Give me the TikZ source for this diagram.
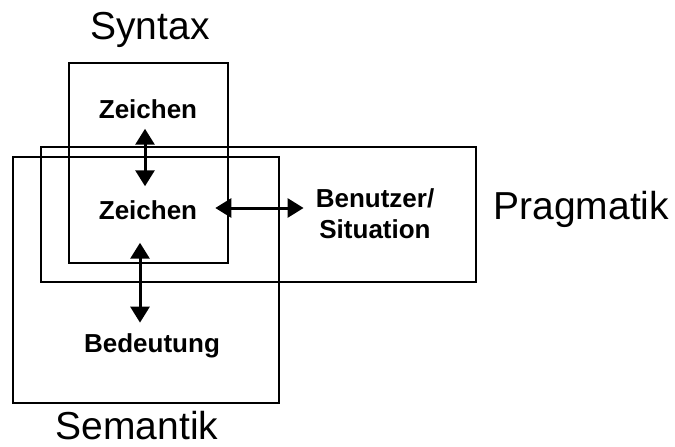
\documentclass[tikz,border=0pt]{standalone}
\usepackage{fontspec}
\setsansfont{Liberation Sans}
\usetikzlibrary{arrows.meta,positioning}

\begin{document}
\begin{tikzpicture}[
  x=1pt, y=-1pt,
  font=\sffamily,
  area/.style={draw, line width=2.6pt, inner sep=0pt},
  word/.style={font=\sffamily\bfseries\fontsize{26}{31}\selectfont,
               align=center, inner sep=0pt},
  title/.style={font=\sffamily\fontsize{39}{42}\selectfont, inner sep=0pt},
  arrow/.style={{Triangle[length=16pt,width=19pt]}-{Triangle[length=16pt,width=19pt]},
                line width=3pt}
]
\useasboundingbox (0,0) rectangle (675,447);
% the three areas
\node[area, line width=1.8pt, minimum width=159pt, minimum height=200pt]
  (syntaxbox) at (148.5,163) {};
\node[area, minimum width=435pt, minimum height=135pt]
  (pragbox) at (258.5,214.5) {};
\node[area, minimum width=266pt, minimum height=246pt]
  (sembox) at (146,280) {};
% titles
\node[title, anchor=base] (syntaxlabel)
  at ([xshift=1.5pt, yshift=23pt]syntaxbox.north) {Syntax};
\node[title, anchor=base west] (praglabel)
  at ([xshift=16pt, yshift=-5pt]pragbox.east) {Pragmatik};
\node[title, anchor=base] (semlabel)
  at ([xshift=-9pt, yshift=-35pt]sembox.south) {Semantik};
% words
\node[word] (zeichentop) at (148,109) {Zeichen};
\node[word] (zeichenmid) at (148,210) {Zeichen};
\node[word] (user) at (375,214) {Benutzer/\\Situation};
\node[word] (meaning) at (152,346) {Bedeutung};
% relations
\draw[arrow] ([xshift=-3pt, yshift=-10pt]zeichentop.south)
  -- ([xshift=-3pt, yshift=14pt]zeichenmid.north);
\draw[arrow] ([xshift=18pt, yshift=2pt]zeichenmid.east)
  -- ([xshift=-12pt, yshift=6pt]user.west);
\draw[arrow] ([xshift=-8pt, yshift=-23pt]zeichenmid.south)
  -- ([xshift=-12pt, yshift=11pt]meaning.north);
\end{tikzpicture}
\end{document}
